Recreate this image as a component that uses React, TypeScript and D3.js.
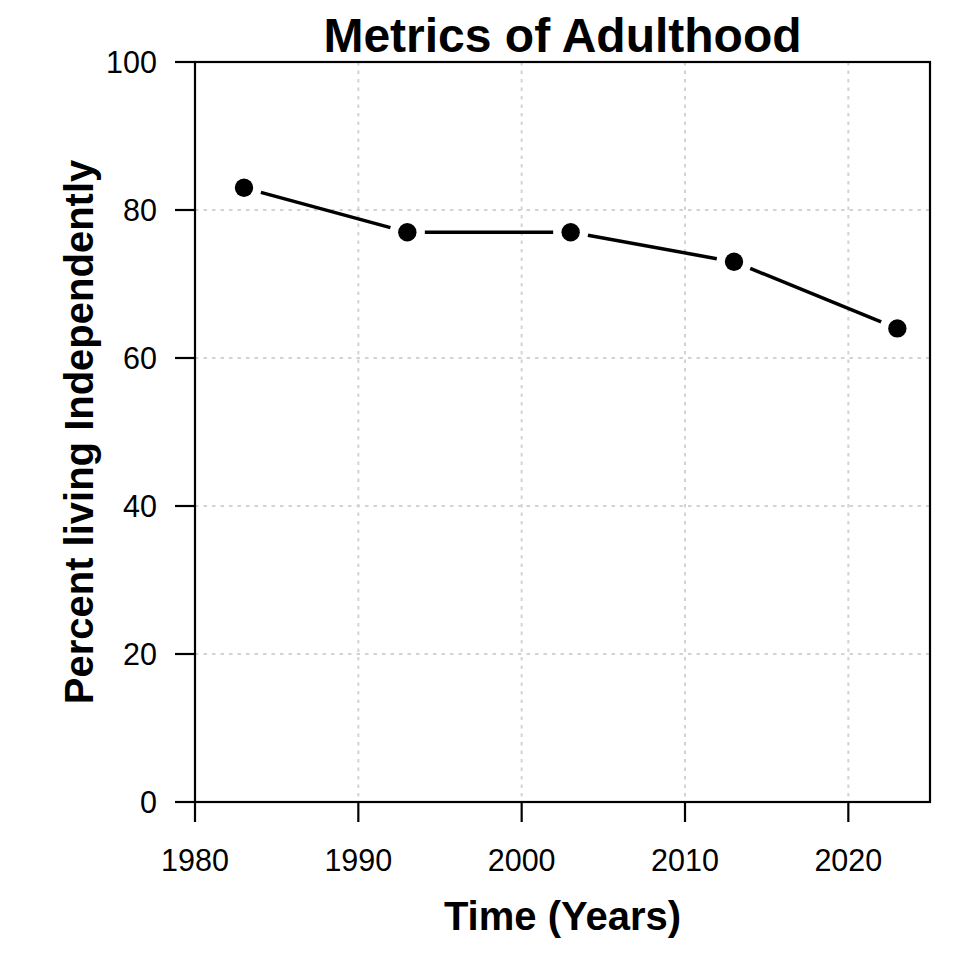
import React from "react";
import * as d3 from "d3";

const years = [1983, 1993, 2003, 2013, 2023];
const percents = [83, 77, 77, 73, 64];
const xTicks = [1980, 1990, 2000, 2010, 2020];
const yTicks = [0, 20, 40, 60, 80, 100];
const xGrid = [1990, 2000, 2010, 2020];
const yGrid = [20, 40, 60, 80];

const W = 960;
const H = 960;
const L = 195;
const R = 930;
const T = 62;
const B = 802;
const FONT = "'Liberation Sans', Arial, Helvetica, sans-serif";

export default function App() {
  const x = d3.scaleLinear().domain([1980, 2025]).range([L, R]);
  const y = d3.scaleLinear().domain([0, 100]).range([B, T]);
  const pts = years.map((yr, i) => [x(yr), y(percents[i])] as [number, number]);
  const gap = 17.5;
  const segs: [number, number, number, number][] = [];
  for (let i = 0; i < pts.length - 1; i++) {
    const [x1, y1] = pts[i];
    const [x2, y2] = pts[i + 1];
    const dx = x2 - x1;
    const dy = y2 - y1;
    const len = Math.hypot(dx, dy);
    if (len <= 2 * gap) continue;
    const ux = dx / len;
    const uy = dy / len;
    segs.push([x1 + ux * gap, y1 + uy * gap, x2 - ux * gap, y2 - uy * gap]);
  }
  return (
    <svg
      width={W}
      height={H}
      viewBox={`0 0 ${W} ${H}`}
      style={{ position: "absolute", left: 0, top: 0, background: "#fff" }}
    >
      <rect x={0} y={0} width={W} height={H} fill="#fff" />
      {xGrid.map((v) => (
        <line
          key={"gx" + v}
          x1={x(v)}
          x2={x(v)}
          y1={T}
          y2={B}
          stroke="#d3d3d3"
          strokeWidth={2}
          strokeDasharray="3.5 5"
        />
      ))}
      {yGrid.map((v) => (
        <line
          key={"gy" + v}
          x1={L}
          x2={R}
          y1={y(v)}
          y2={y(v)}
          stroke="#d3d3d3"
          strokeWidth={2}
          strokeDasharray="3.5 5"
        />
      ))}
      {segs.map((s, i) => (
        <line
          key={"s" + i}
          x1={s[0]}
          y1={s[1]}
          x2={s[2]}
          y2={s[3]}
          stroke="#000"
          strokeWidth={3.5}
        />
      ))}
      {pts.map((p, i) => (
        <circle key={"p" + i} cx={p[0]} cy={p[1]} r={9.2} fill="#000" />
      ))}
      <rect x={L} y={T} width={R - L} height={B - T} fill="none" stroke="#000" strokeWidth={2.2} />
      <line x1={x(1980)} x2={x(2020)} y1={B} y2={B} stroke="#000" strokeWidth={2.2} />
      {xTicks.map((v) => (
        <g key={"xt" + v}>
          <line x1={x(v)} x2={x(v)} y1={B} y2={B + 20} stroke="#000" strokeWidth={2.2} />
          <text
            x={x(v)}
            y={871}
            textAnchor="middle"
            fontFamily={FONT}
            fontSize={30.5}
            fill="#000"
          >
            {v}
          </text>
        </g>
      ))}
      {yTicks.map((v) => (
        <g key={"yt" + v}>
          <line x1={L - 20} x2={L} y1={y(v)} y2={y(v)} stroke="#000" strokeWidth={2.2} />
          <text
            x={157}
            y={y(v)}
            dy="0.35em"
            textAnchor="end"
            fontFamily={FONT}
            fontSize={30.5}
            fill="#000"
          >
            {v}
          </text>
        </g>
      ))}
      <text
        x={(L + R) / 2}
        y={52}
        textAnchor="middle"
        fontFamily={FONT}
        fontWeight="bold"
        fontSize={48}
        fill="#000"
      >
        Metrics of Adulthood
      </text>
      <text
        x={(L + R) / 2}
        y={930}
        textAnchor="middle"
        fontFamily={FONT}
        fontWeight="bold"
        fontSize={40}
        fill="#000"
      >
        Time (Years)
      </text>
      <text
        transform={`translate(93, ${(T + B) / 2}) rotate(-90)`}
        textAnchor="middle"
        fontFamily={FONT}
        fontWeight="bold"
        fontSize={40}
        fill="#000"
      >
        Percent living Independently
      </text>
    </svg>
  );
}
